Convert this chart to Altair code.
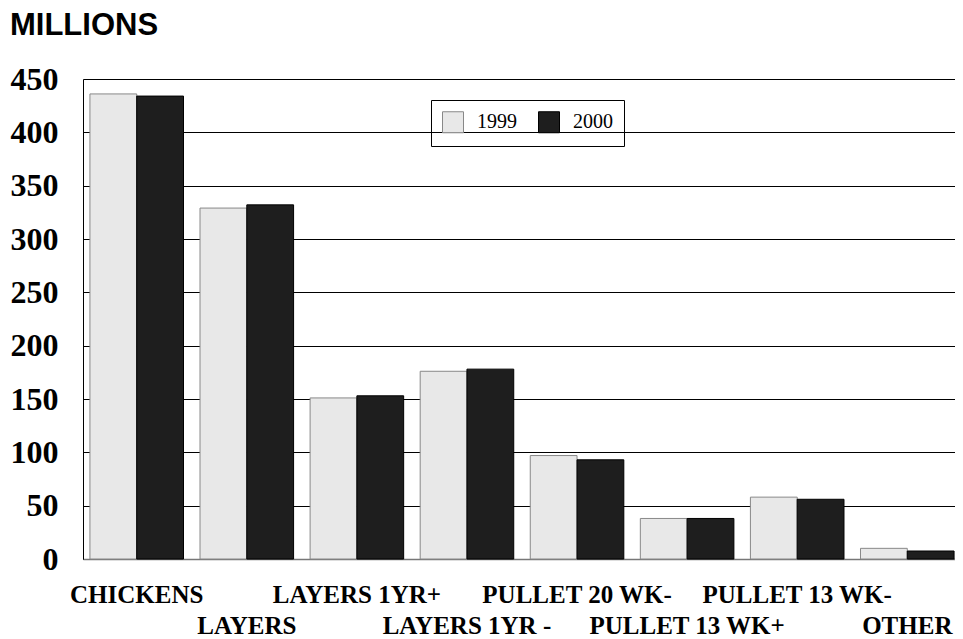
import json
import altair as alt
import pandas as pd

categories = ["CHICKENS", "LAYERS", "LAYERS 1YR+", "LAYERS 1YR -",
              "PULLET 20 WK-", "PULLET 13 WK+", "PULLET 13 WK-", "OTHER"]
years = ["1999", "2000"]
values_1999 = [436, 329, 151, 176, 97, 38, 58, 10]
values_2000 = [434, 332, 153, 178, 93, 38, 56, 7.5]
y_ticks = [0, 50, 100, 150, 200, 250, 300, 350, 400, 450]

rows = []
for c, a, b in zip(categories, values_1999, values_2000):
    rows.append({"cat": c, "year": "1999", "value": a})
    rows.append({"cat": c, "year": "2000", "value": b})
df = pd.DataFrame(rows)

label_expr = ("indexof(" + json.dumps(categories) + ", datum.value) % 2 == 1"
              " ? ['', datum.label] : datum.label")

chart = alt.Chart(df).mark_bar(strokeWidth=1).encode(
    x=alt.X("cat:N", sort=categories,
            scale=alt.Scale(paddingInner=0.15, paddingOuter=0.063,
                            range=[0, 878]),
            axis=alt.Axis(title=None, labelAngle=0, labelExpr=label_expr,
                          labelLineHeight=31, labelFont="Liberation Serif",
                          labelFontSize=25, labelFontWeight="bold",
                          labelColor="black", ticks=False, labelPadding=23,
                          labelBaseline="top", labelLimit=0,
                          domainColor="#777777", domainWidth=1.5)),
    xOffset=alt.XOffset("year:N", sort=years,
                        scale=alt.Scale(paddingInner=0, paddingOuter=0)),
    y=alt.Y("value:Q", scale=alt.Scale(domain=[0, 450], nice=False),
            axis=alt.Axis(title=None, values=y_ticks, grid=True,
                          gridColor="black", gridWidth=1, ticks=False,
                          domainColor="black", domainWidth=1,
                          labelFont="Liberation Serif", labelFontSize=32,
                          labelFontWeight="bold", labelColor="black",
                          labelPadding=25)),
    color=alt.Color("year:N", sort=years,
                    scale=alt.Scale(domain=years, range=["#e8e8e8", "#1e1e1e"]),
                    legend=alt.Legend(orient="none", legendX=348, legendY=21,
                                      direction="horizontal", title=None,
                                      strokeColor="black", padding=11,
                                      symbolType="square", symbolSize=441,
                                      symbolStrokeColor="black",
                                      symbolStrokeWidth=1,
                                      labelFont="Liberation Serif",
                                      labelFontSize=20, labelColor="black",
                                      labelOffset=13, columnPadding=19)),
    stroke=alt.Stroke("year:N", sort=years,
                      scale=alt.Scale(domain=years, range=["#888888", "#000000"]),
                      legend=None),
).properties(
    width=872, height=480,
    padding={"left": 75, "top": 71, "right": 0, "bottom": 80},
    autosize=alt.AutoSizeParams(type="none"),
    title=alt.TitleParams("MILLIONS", anchor="start", frame="bounds",
                          font="Liberation Sans", fontSize=31,
                          fontWeight="bold", color="black", offset=21),
).configure_view(stroke=None).configure(background="white")

chart.save("out.html", embed_options={"renderer": "svg", "actions": False})
